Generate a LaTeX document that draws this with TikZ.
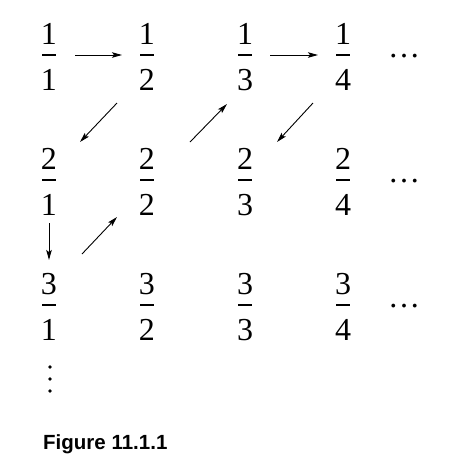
\documentclass[tikz,border=0pt]{standalone}
\usepackage{fontspec}
\setmainfont{Liberation Serif}
\newfontfamily\capfont{Liberation Sans}
\usetikzlibrary{arrows.meta}

\tikzset{
  frac/.style 2 args={fill=black, inner sep=0pt, minimum width=14pt, minimum height=1.2pt,
    label={[num, label distance=9.5pt]above:#1}, label={[num, label distance=13.5pt]below:#2}},
  num/.style={inner sep=0pt, font=\fontsize{32}{32}\selectfont},
  arr/.style={-{Stealth[length=10pt,width=5.5pt,inset=2pt]}, line width=0.9pt},
}

\begin{document}
\begin{tikzpicture}[x=1pt,y=1pt]
  \newcommand\colw{98}
  \newcommand\rowh{125}
  \useasboundingbox (0,0) rectangle (475,-467);

  % first row
  \node[frac={1}{1}] (f11) at (49,-55) {};
  \node[frac={1}{2}] (f12) at (49+\colw,-55) {};
  \node[frac={1}{3}] (f13) at (49+2*\colw,-55) {};
  \node[frac={1}{4}] (f14) at (49+3*\colw,-55) {};
  \node[num, anchor=base] (h1) at (404,-57) {…};

  % second row
  \node[frac={2}{1}] (f21) at (49,-55-\rowh) {};
  \node[frac={2}{2}] (f22) at (49+\colw,-55-\rowh) {};
  \node[frac={2}{3}] (f23) at (49+2*\colw,-55-\rowh) {};
  \node[frac={2}{4}] (f24) at (49+3*\colw,-55-\rowh) {};
  \node[num, anchor=base] (h2) at (404,-57-\rowh) {…};

  % third row
  \node[frac={3}{1}] (f31) at (49,-55-2*\rowh) {};
  \node[frac={3}{2}] (f32) at (49+\colw,-55-2*\rowh) {};
  \node[frac={3}{3}] (f33) at (49+2*\colw,-55-2*\rowh) {};
  \node[frac={3}{4}] (f34) at (49+3*\colw,-55-2*\rowh) {};
  \node[num, anchor=base] (h3) at (404,-57-2*\rowh) {…};

  % column dots
  \fill (50,-367) circle (1.9pt) (50,-379) circle (1.9pt) (50,-391) circle (1.9pt);

  % the path through the table
  \draw[arr, shorten <=26pt, shorten >=25pt] (f11.center) -- (f12.center);
  \draw[arr] ([xshift=-30pt,yshift=-48pt]f12.center) -- ([xshift=31pt,yshift=38pt]f21.center);
  \draw[arr, shorten <=43pt, shorten >=45pt] (f21.center) -- (f31.center);
  \draw[arr] ([xshift=33pt,yshift=51pt]f31.center) -- ([xshift=-30pt,yshift=-37pt]f22.center);
  \draw[arr] ([xshift=43pt,yshift=38pt]f22.center) -- ([xshift=-18pt,yshift=-49pt]f13.center);
  \draw[arr, shorten <=25pt, shorten >=25pt] (f13.center) -- (f14.center);
  \draw[arr] ([xshift=-30pt,yshift=-48pt]f14.center) -- ([xshift=32pt,yshift=38pt]f23.center);

  \node[anchor=base west, inner sep=0pt, font=\capfont\bfseries\fontsize{20.5}{21}\selectfont] (cap) at (43,-449) {Figure 11.1.1};
\end{tikzpicture}
\end{document}
